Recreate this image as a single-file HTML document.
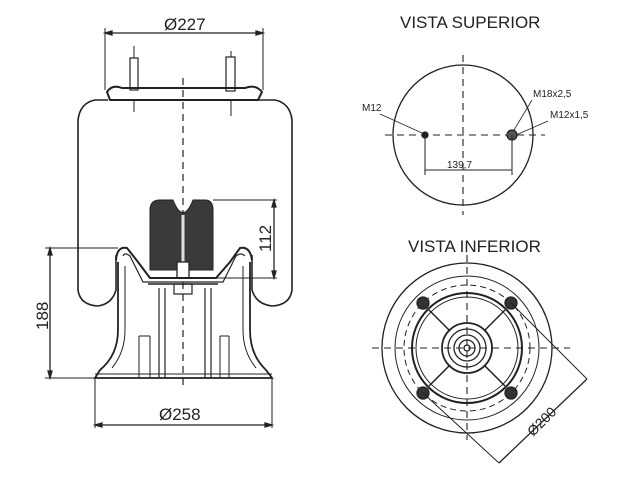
<!DOCTYPE html>
<html><head><style>body{margin:0;background:#fff}svg{display:block}text{font-family:"Liberation Sans",sans-serif;fill:#222}</style></head><body>
<svg width="640" height="480" viewBox="0 0 640 480" stroke="#222" fill="none" stroke-width="1.3">
<!-- LEFT VIEW -->
<line x1="105" y1="33" x2="263" y2="33"/><path d="M105,33 l7,-2 v4z M263,33 l-7,-2 v4z" fill="#222"/>
<line x1="105" y1="28" x2="105" y2="90" stroke-width="1"/><line x1="263" y1="28" x2="263" y2="90" stroke-width="1"/>
<text x="164" y="30" font-size="17" stroke="none">Ø227</text>
<rect x="130" y="58" width="8" height="32" stroke-width="1.2"/><rect x="226" y="57" width="9" height="34" stroke-width="1.2"/>
<line x1="134" y1="46" x2="134" y2="58" stroke-width="1"/><line x1="231" y1="51" x2="231" y2="57" stroke-width="1"/>
<path d="M107,92 Q112,84 122,88 L245,88 Q256,84 262,92 L258,100 L110,100Z" stroke-width="2"/>
<line x1="134" y1="100" x2="134" y2="112" stroke-width="1"/><line x1="231" y1="100" x2="231" y2="116" stroke-width="1"/>
<path d="M108,100 L95,100 Q80,103 78,120 L78,290 Q80,305 98,306 Q112,304 116,290 L116,255" stroke-width="1.6"/>
<path d="M258,100 L275,100 Q290,103 292,120 L292,290 Q290,305 272,306 Q256,304 252,290 L252,255" stroke-width="1.6"/>
<line x1="183" y1="78" x2="183" y2="390" stroke-dasharray="7,5" stroke-width="1.2"/>
<!-- bump stop -->
<path d="M150,210 Q150,200 160,200 L173,200 Q183,225 193,200 L205,200 Q213,200 213,210 L213,270 L150,270Z" fill="#3a3a3a" stroke-width="1"/>
<line x1="183" y1="215" x2="183" y2="262" stroke="#ddd" stroke-width="3"/>
<rect x="177" y="262" width="12" height="16" fill="#fff"/>
<rect x="174" y="284" width="18" height="10" stroke-width="1.2"/>
<!-- piston -->
<path d="M116,260 Q117,246 127,248 L138,262 L150,278 L216,278 L230,262 L240,248 Q250,246 252,260" stroke-width="2"/>
<path d="M123,256 Q125,252 130,256 L143,282 L223,282 L236,256 Q241,252 245,256" stroke-width="1.2"/>
<path d="M148,284 L218,284" stroke-width="1.5"/>
<path d="M118,262 L118,330 Q118,355 100,370 L95,378 L272,378 L266,370 Q250,355 250,330 L250,262" stroke-width="1.8"/>
<path d="M125,266 L125,330 Q125,352 112,368" stroke-width="1"/><path d="M243,266 L243,330 Q243,352 256,368" stroke-width="1"/>
<path d="M159,288 L159,378 M165,288 L165,378 M205,288 L205,378 M211,288 L211,378" stroke-width="1.2"/>
<path d="M139,336 L139,378 M150,336 L150,378 M139,336 L150,336 M220,336 L220,378 M229,336 L229,378 M220,336 L229,336" stroke-width="1"/>
<line x1="95" y1="374" x2="272" y2="374" stroke-width="1"/>
<!-- dims -->
<line x1="45" y1="248" x2="118" y2="248" stroke-width="1"/><line x1="45" y1="378" x2="95" y2="378" stroke-width="1"/>
<line x1="50" y1="248" x2="50" y2="378"/><path d="M50,248 l-2,7 h4z M50,378 l-2,-7 h4z" fill="#222"/>
<text x="0" y="0" font-size="17" stroke="none" transform="translate(48,330) rotate(-90)">188</text>
<line x1="213" y1="200" x2="277" y2="200" stroke-width="1"/><line x1="216" y1="278" x2="277" y2="278" stroke-width="1"/>
<line x1="274" y1="200" x2="274" y2="278"/><path d="M274,200 l-2,7 h4z M274,278 l-2,-7 h4z" fill="#222"/>
<text x="0" y="0" font-size="17" stroke="none" transform="translate(271,252) rotate(-90)">112</text>
<line x1="95" y1="378" x2="95" y2="428" stroke-width="1"/><line x1="272" y1="378" x2="272" y2="428" stroke-width="1"/>
<line x1="95" y1="425" x2="272" y2="425"/><path d="M95,425 l7,-2 v4z M272,425 l-7,-2 v4z" fill="#222"/>
<text x="159" y="420" font-size="17" stroke="none">Ø258</text>
<!-- TOP RIGHT -->
<text x="400" y="28" font-size="17" stroke="none">VISTA SUPERIOR</text>
<circle cx="463" cy="135" r="70"/>
<line x1="385" y1="135" x2="545" y2="135" stroke-dasharray="7,5" stroke-width="1.1"/>
<line x1="463" y1="55" x2="463" y2="215" stroke-dasharray="7,5" stroke-width="1.1"/>
<circle cx="425" cy="135" r="3" fill="#222"/><circle cx="512" cy="135" r="5" fill="#555"/>
<line x1="425" y1="135" x2="425" y2="175" stroke-width="1"/><line x1="512" y1="135" x2="512" y2="175" stroke-width="1"/>
<line x1="425" y1="170" x2="512" y2="170" stroke-width="1"/>
<text x="447" y="168" font-size="10" stroke="none">139,7</text>
<text x="362" y="111" font-size="10" stroke="none">M12</text><line x1="380" y1="114" x2="422" y2="133" stroke-width="0.8"/>
<text x="533" y="97" font-size="10" stroke="none">M18x2,5</text><line x1="532" y1="100" x2="514" y2="130" stroke-width="0.8"/>
<text x="550" y="118" font-size="10" stroke="none">M12x1,5</text><line x1="548" y1="121" x2="516" y2="135" stroke-width="0.8"/>
<!-- BOTTOM RIGHT -->
<text x="408" y="252" font-size="17" stroke="none">VISTA INFERIOR</text>
<circle cx="467" cy="348" r="85"/><circle cx="467" cy="348" r="72" stroke-width="1"/>
<circle cx="467" cy="348" r="63" stroke-dasharray="6,4" stroke-width="1"/>
<circle cx="467" cy="348" r="55" stroke-width="2"/><circle cx="467" cy="348" r="51" stroke-width="1"/>
<circle cx="467" cy="348" r="25" stroke-width="1.8"/><circle cx="467" cy="348" r="19"/><circle cx="467" cy="348" r="13"/><circle cx="467" cy="348" r="8"/><circle cx="467" cy="348" r="3"/>
<path d="M429,310 L450,331 M505,310 L484,331 M429,386 L450,365 M505,386 L484,365" stroke-width="1.5"/>
<g fill="#333"><circle cx="423" cy="303" r="6"/><circle cx="511" cy="303" r="6"/><circle cx="423" cy="393" r="6"/><circle cx="511" cy="393" r="6"/></g>
<line x1="372" y1="348" x2="570" y2="348" stroke-dasharray="7,5" stroke-width="1.1"/>
<line x1="467" y1="255" x2="467" y2="440" stroke-dasharray="7,5" stroke-width="1.1"/>
<line x1="511" y1="303" x2="587" y2="379" stroke-width="1"/><line x1="423" y1="393" x2="499" y2="463" stroke-width="1"/>
<line x1="587" y1="379" x2="499" y2="463"/>
<text x="0" y="0" font-size="14" stroke="none" transform="translate(533,437) rotate(-45)">Ø200</text>
</svg></body></html>
